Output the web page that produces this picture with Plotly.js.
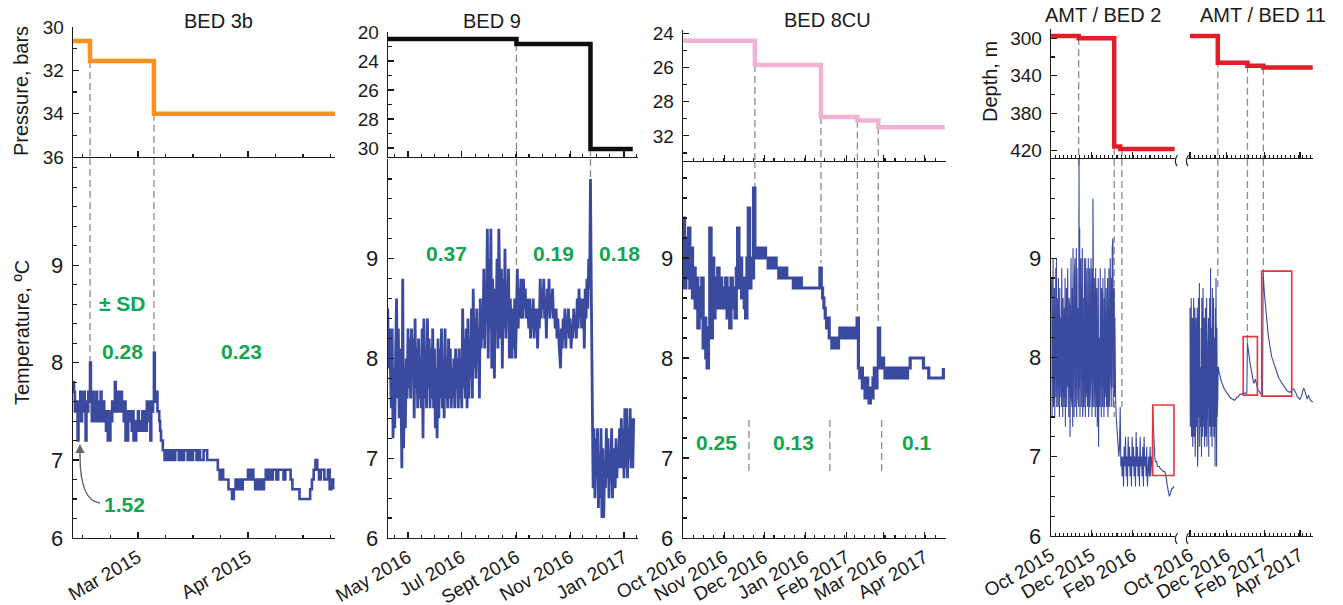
<!DOCTYPE html>
<html>
<head>
<meta charset="utf-8">
<script src="https://cdn.plot.ly/plotly-3.0.1.min.js"></script>
<style>html,body{margin:0;padding:0;background:#fff}#chart{width:1343px;height:605px}</style>
</head>
<body>
<div id="chart"></div>
<script>
// ===================== DATA =====================
// ---- Panel 1: BED 3b (2015) ----
const p1PressureDates = ['2015-02-10 17:00', '2015-02-15 12:00', '2015-03-05 12:00', '2015-04-25 12:00'];
const p1PressureBars = [30.65, 31.57, 34.0, 34.0];
const p1TempStartA = '2015-02-10T18:00'; // 6-hourly
const p1TempA = [7.8,
  7.7,7.5,7.6,7.5, 7.2,7.6,7.5,7.7, 7.4,7.6,7.5,7.7, 7.5,7.2,7.6,7.5, 7.7,7.6,8.0,7.6,
  7.4,7.7,7.5,7.6, 7.4,7.7,7.4,7.6, 7.5,7.4,7.7,7.5, 7.4,7.6,7.4,7.5, 7.3,7.5,7.2,7.4,
  7.2,7.5,7.4,7.6, 7.5,7.6,7.8,7.5, 7.7,7.5,7.6,7.7, 7.5,7.7,7.6,7.5, 7.4,7.6,7.2,7.4,
  7.2,7.5,7.4,7.5, 7.4,7.3,7.5,7.2, 7.4,7.2,7.4,7.3, 7.5,7.3,7.4,7.3, 7.4,7.5,7.3,7.4,
  7.5,7.3,7.6,7.5, 7.6,7.4,7.2,7.6, 7.5,7.6,8.1,7.7, 7.6,7.7,7.5,7.5, 7.4,7.3,7.2,7.2,
  7.1,7.1,7.0,7.1];
const p1TempStartB = '2015-03-09T00:00'; // 12-hourly
const p1TempB = [7.0,7.1, 7.0,7.1, 7.0,7.1, 7.1,7.0, 7.1,7.0, 7.1,7.1, 7.0,7.1, 7.0,7.1,
  7.1,7.0, 7.1,7.0, 7.0,7.1, 7.1,7.0, 7.0,7.0, 7.0,7.0, 7.0,6.9,
  6.8,6.9, 6.8,6.8, 6.8,6.7, 6.7,6.6, 6.7,6.8, 6.7,6.8, 6.7,6.8, 6.8,6.8,
  6.9,6.8, 6.9,6.8, 6.7,6.8, 6.7,6.8, 6.7,6.8, 6.9,6.8, 6.9,6.8, 6.9,6.9, 6.8,6.9, 6.9,6.9, 6.8,6.9, 6.9,6.9,
  6.8,6.7, 6.7,6.7, 6.7,6.6, 6.6,6.6, 6.6,6.6, 6.6,6.7, 6.8,6.9, 7.0,6.9, 6.8,6.9, 6.9,6.8, 6.8,6.9, 6.7,6.8, 6.7];
const p1ChangeDates = ['2015-02-15 12:00', '2015-03-05 12:00'];
const p1ChangeTop = [31.57, 34.0];
const p1ChangeTempEnd = [8.0, 8.1];
const p1TickVals = ['2015-03-01', '2015-04-01'];
const p1TickText = ['Mar 2015', 'Apr 2015'];
const p1SdText = ['± SD', '0.28', '0.23', '1.52'];
const p1SdDates = ['2015-02-24 18:00', '2015-02-24 18:00', '2015-03-30 06:00', '2015-02-25 06:00'];
const p1SdTemps = [8.61, 8.11, 8.11, 6.54];

// ---- Panel 2: BED 9 (2016-2017) ----
const p2PressureDates = ['2016-04-08 07:00', '2016-09-01', '2016-11-24', '2017-01-11'];
const p2PressureBars = [20.48, 20.83, 28.07, 28.07];
const p2TempStart = '2016-04-08T00:00'; // daily
const p2Temp = [
  8.5,7.9,8.3,8.0,7.5,8.3,7.2,7.9,7.3,8.1,
  8.6,7.6,8.3,7.4,8.1,7.7,6.9,8.8,7.1,7.9,
  7.3,8.0,7.6,8.3,7.7,8.2,7.6,8.3,7.8,8.2,
  7.4,8.4,7.7,8.1,7.5,8.2,7.6,8.0,7.5,8.3,
  7.2,8.4,7.6,8.0,7.5,8.4,7.7,8.2,7.5,8.1,
  7.6,8.3,7.5,8.1,7.3,7.9,7.2,8.2,7.4,8.1,
  7.6,8.3,7.5,7.9,7.4,8.3,7.6,8.0,7.5,8.2,
  7.6,8.1,7.5,7.9,7.6,8.0,7.5,8.1,7.7,8.0,
  7.5,8.1,7.6,8.0,7.5,8.5,7.7,8.2,7.6,8.3,
  7.5,8.4,7.6,8.2,7.8,8.5,7.6,8.7,7.9,8.4,
  7.8,8.5,8.0,8.3,7.6,8.6,8.1,8.4,8.2,8.9,
  8.1,8.7,8.4,9.3,8.0,9.0,8.3,9.3,7.9,8.8,
  8.2,7.8,8.7,8.4,9.0,8.1,9.3,8.5,8.2,8.9,
  7.9,8.8,8.3,9.1,8.2,8.7,8.4,8.9,8.0,8.6,
  8.3,8.0,8.5,8.1,8.6,8.0,8.4,8.9,8.3,8.7,
  8.4,8.8,8.5,8.4,8.8,8.5,8.7,8.4,8.6,8.5,
  8.3,8.6,8.2,8.5,8.3,8.6,8.2,8.5,8.4,8.5,
  8.1,8.5,8.3,8.8,8.4,8.7,8.5,8.8,8.4,8.6,
  8.2,8.7,8.5,8.8,8.4,8.6,8.5,8.7,8.4,8.5,
  8.3,8.5,8.2,8.4,8.2,8.0,7.9,8.3,8.1,8.4,
  8.2,8.5,8.1,8.4,8.3,8.5,8.2,8.4,8.1,8.3,
  8.2,8.5,8.3,8.4,8.2,8.6,8.3,8.7,8.4,8.6,
  8.3,8.5,8.6,8.1,8.7,8.4,8.8,8.5,9.0,8.7,
  9.8,8.6,7.2,6.7,7.3,6.6,7.2,6.8,7.3,6.5,
  7.0,6.6,7.3,6.4,7.1,6.4,6.9,6.7,7.3,6.8,
  7.2,6.6,7.0,6.8,7.3,6.6,7.1,6.9,6.7,7.2,
  6.8,7.1,6.9,7.3,6.9,7.4,6.9,7.3,6.8,7.5,
  6.9,7.5,6.8,7.3,7.0,7.5,6.9,7.4,6.9,7.4];
const p2ChangeDates = ['2016-09-01', '2016-11-24'];
const p2ChangeTop = [20.83, 28.07];
const p2ChangeTempEnd = [8.9, 9.8];
const p2TickVals = ['2016-05-01', '2016-07-01', '2016-09-01', '2016-11-01', '2017-01-01'];
const p2TickText = ['May 2016', 'Jul 2016', 'Sept 2016', 'Nov 2016', 'Jan 2017'];
const p2PressureTicks = [20, 22, 24, 26, 28];
const p2PressureTickText = ['20', '24', '26', '28', '30'];
const p2SdText = ['0.37', '0.19', '0.18'];
const p2SdDates = ['2016-06-14', '2016-10-13 12:00', '2016-12-27 06:00'];
const p2SdTemps = [9.05, 9.05, 9.05];

// ---- Panel 3: BED 8CU (2016-2017) ----
const p3PressureDates = ['2016-10-01', '2016-11-24', '2017-01-12 18:00', '2017-02-09 06:00', '2017-02-25', '2017-04-16'];
const p3PressureBars = [24.43, 25.85, 28.9, 29.1, 29.49, 29.49];
const p3TempStart = '2016-10-01T00:00'; // daily
const p3Temp = [
  9.4,8.7,9.2,8.8,9.3,8.7,9.1,8.6,8.9,8.5,
  8.8,8.3,8.7,8.4,8.8,8.1,8.4,8.0,7.9,8.3,
  9.3,8.2,9.0,8.4,8.8,8.5,8.9,8.5,8.8,8.5,
  8.7,8.5,8.8,8.4,8.7,8.3,8.8,8.5,8.7,8.4,
  8.9,9.3,8.7,9.0,8.6,8.8,8.5,8.4,9.0,9.5,
  8.7,9.0,8.8,9.7,9.0,9.1,9.0,9.1,9.0,9.1,
  9.0,9.1,9.0,9.0,8.9,9.0,8.9,9.0,8.9,9.0,
  8.9,8.9,8.8,8.9,8.8,8.9,8.8,8.9,8.8,8.8,
  8.8,8.8,8.8,8.7,8.8,8.7,8.8,8.7,8.8,8.7,
  8.7,8.7,8.7,8.7,8.7,8.7,8.7,8.7,8.7,8.7,
  8.7,8.7,8.7,8.9,8.7,8.6,8.5,8.4,8.3,8.4,
  8.2,8.2,8.1,8.2,8.1,8.2,8.1,8.2,8.3,8.2,
  8.3,8.2,8.3,8.2,8.3,8.2,8.3,8.2,8.3,8.2,
  8.3,8.4,7.9,7.8,7.9,7.7,7.8,7.6,7.8,7.6,
  7.55,7.7,7.6,7.8,7.9,7.7,7.9,8.3,8.0,7.9,
  8.0,7.9,7.8,7.9,7.8,7.9,7.8,7.8,7.9,7.8,
  7.8,7.9,7.8,7.9,7.8,7.8,7.9,7.9,7.8,7.9,
  7.9,8.0,8.0,8.0,8.0,8.0,8.0,8.0,8.0,8.0,
  8.0,7.9,7.9,7.9,7.9,7.8,7.8,7.8,7.8,7.8,
  7.8,7.8,7.8,7.8,7.8,7.8,7.9];
const p3ChangeDates = ['2016-11-24', '2017-01-12 18:00', '2017-02-09 06:00', '2017-02-25'];
const p3ChangeTop = [25.85, 28.9, 29.1, 29.49];
const p3ChangeTempEnd = [9.68, 8.95, 8.47, 8.37];
const p3SepDates = ['2016-11-19 12:00', '2017-01-19 12:00', '2017-02-27 12:00'];
const p3SepTemps = [7.38, 6.83];
const p3TickVals = ['2016-10-01', '2016-11-01', '2016-12-01', '2017-01-01', '2017-02-01', '2017-03-01', '2017-04-01'];
const p3TickText = ['Oct 2016', 'Nov 2016', 'Dec 2016', 'Jan 2016', 'Feb 2017', 'Mar 2016', 'Apr 2017'];
const p3PressureTicks = [24, 26, 28, 30];
const p3PressureTickText = ['24', '26', '28', '32'];
const p3SdText = ['0.25', '0.13', '0.1'];
const p3SdDates = ['2016-10-25 18:00', '2016-12-22 18:00', '2017-03-26'];
const p3SdTemps = [7.16, 7.16, 7.16];

// ---- Panel 4: AMT / BED 2 (2015-2016) ----
const p4DepthDates = ['2015-10-01', '2015-11-11 12:00', '2016-01-04', '2016-01-13', '2016-04-04'];
const p4DepthM = [297.5, 300, 415.6, 418.5, 418.5];
const p4TempStartA = '2015-10-01T00:00'; // 12-hourly
const p4TempA = [
  8.6,7.6,8.8,7.4,8.5,7.8,9.0,7.5,8.2,7.7,
  8.7,7.4,8.4,7.9,8.9,7.6,9.0,7.5,8.3,7.8,
  8.6,7.5,8.8,7.7,8.2,7.4,8.7,7.9,8.5,7.6,
  8.4,7.5,8.9,7.8,8.3,7.4,8.6,7.7,8.1,7.5,
  8.5,7.6,8.8,7.3,8.2,7.9,8.7,7.5,8.4,7.6,
  8.9,7.7,8.3,7.4,8.6,7.5,8.5,7.2,8.8,7.8,
  9.0,7.6,8.4,7.5,8.7,7.3,9.1,7.8,8.5,7.4,
  8.8,7.6,9.0,7.5,8.6,7.7,9.1,7.4,8.9,7.9,
  8.5,7.6,9.2,7.5,10.0,7.7,9.3,7.4,8.8,7.6,
  9.0,7.5,8.7,7.8,9.1,7.4,8.9,7.6,8.6,7.5,
  9.0,7.7,8.8,7.4,9.0,7.6,8.5,7.8,8.9,7.5,
  8.7,7.6,9.0,7.4,8.6,7.7,8.9,7.5,8.4,7.8,
  9.0,7.6,8.7,7.4,8.9,7.5,9.6,7.7,8.6,7.5,
  8.8,7.6,8.5,7.4,8.9,7.8,8.3,7.5,8.7,7.3,
  8.4,7.6,8.8,7.1,8.2,7.6,8.6,7.5,8.9,7.7,
  8.3,7.4,8.7,7.6,8.5,7.5,8.8,7.7,8.2,7.4,
  8.6,7.5,8.9,7.6,8.3,7.8,8.7,7.5,8.4,7.6,
  8.8,7.4,8.5,7.7,8.9,7.5,8.6,7.8,9.0,7.6,
  8.7,7.5,8.8,7.7,9.1,7.6,9.2,7.5,8.6,7.7,
  8.7,7.6,8.4,7.8];
const p4TempStartB = '2016-01-06T00:00'; // daily
const p4TempB = [
  7.6,7.4,7.3,7.2,7.1,7.0,7.1,7.5,6.9,7.0,
  6.8,7.0,6.7,7.1,6.9,7.2,6.8,7.0,6.7,7.2,
  6.9,7.1,6.8,7.0,6.7,7.2,6.9,7.1,6.8,7.0,
  6.7,7.25,6.9,7.1,6.8,7.0,6.7,7.2,6.9,7.0,
  6.8,7.1,6.7,7.2,6.9,7.0,6.8,7.1,6.7,6.9,
  7.0,6.8,7.1,6.8,7.0,6.9,
  7.5,7.3,7.1,7.0,6.95,6.95,6.95,6.9,6.9,6.9,
  6.9,6.88,6.88,6.87,6.86,6.85,6.85,6.85,6.85,6.83,
  6.8,6.75,6.7,6.65,6.6,6.6,6.62,6.65,6.66,6.68,
  6.68,6.7,6.7];
const p4ChangeDates = ['2015-11-11 12:00', '2016-01-04', '2016-01-15 12:00'];
const p4ChangeTop = [300, 300, 418.5];
const p4ChangeTempEnd = [9.9, 7.4, 7.5];
const p4BoxDates = [['2016-03-02', '2016-04-03']];
const p4BoxTemps = [[6.81, 7.52]];
const p4TickVals = ['2015-10-01', '2015-12-01', '2016-02-01'];
const p4TickText = ['Oct 2015', 'Dec 2015', 'Feb 2016'];
const depthTicks = [300, 340, 380, 420];

// ---- Panel 5: AMT / BED 11 (2016-2017) ----
const p5DepthDates = ['2016-10-01', '2016-11-16', '2017-01-04', '2017-01-30 10:00', '2017-04-22'];
const p5DepthM = [297.5, 326, 329.2, 331.3, 331.3];
const p5TempStartA = '2016-10-01T00:00'; // 12-hourly
const p5TempA = [
  8.5,7.3,8.2,7.6,8.6,7.2,8.0,7.5,8.4,7.1,
  8.3,7.4,8.6,7.2,7.9,7.6,8.5,7.0,8.2,7.4,
  8.4,7.3,8.1,7.4,8.5,6.9,8.0,7.2,8.6,7.4,
  8.2,8.75,7.1,8.5,7.6,7.9,7.3,8.3,7.0,8.6,
  7.5,8.1,7.2,8.7,7.4,8.0,7.3,8.4,7.1,8.2,
  7.6,8.5,7.2,8.0,7.4,8.6,7.1,8.3,7.5,8.1,
  7.3,8.4,7.0,8.2,7.5,8.6,7.3,8.0,8.9,7.2,
  8.4,7.4,8.3,7.1,8.7,7.4,8.1,7.3,8.6,7.2,
  8.4,7.5,8.2,6.9,8.5,7.3,8.8,7.2,6.9,8.3,
  7.4,8.1,7.6,7.9];
const p5TempStartB = '2016-11-17T00:00'; // daily
const p5TempB = [
  7.9,7.85,7.82,7.8,7.78,7.76,7.74,7.72,7.7,7.69,
  7.68,7.67,7.66,7.65,7.64,7.63,7.62,7.61,7.6,7.6,
  7.59,7.59,7.58,7.58,7.58,7.57,7.57,7.57,7.58,7.58,
  7.59,7.6,7.6,7.61,7.62,7.62,7.63,7.63,7.63,7.63,
  7.64,7.64,7.64,7.64,7.64,7.64,7.64,7.64,
  8.15,8.08,8.02,7.98,7.95,7.92,7.88,7.84,7.8,7.77,
  7.75,7.74,7.76,7.78,7.76,7.72,7.7,7.68,7.67,7.66,
  7.65,7.64,7.63,7.63,7.62,7.62,
  8.85,8.75,8.65,8.57,8.5,8.43,8.37,8.31,8.25,8.2,
  8.15,8.11,8.07,8.04,8.01,7.99,7.97,7.95,7.93,7.91,
  7.89,7.87,7.85,7.83,7.82,7.8,7.79,7.78,7.77,7.76,
  7.75,7.74,7.73,7.72,7.71,7.7,7.69,7.68,7.67,7.67,
  7.66,7.66,7.65,7.65,7.65,7.65,7.66,7.67,7.68,7.68,
  7.68,7.68,7.67,7.66,7.65,7.63,7.61,7.6,7.59,7.58,
  7.58,7.58,7.59,7.6,7.62,7.65,7.68,7.69,7.68,7.66,
  7.63,7.6,7.58,7.58,7.6,7.62,7.6,7.58,7.57,7.56,
  7.56,7.55,7.55];
const p5ChangeDates = ['2016-11-16', '2017-01-04', '2017-01-30 10:00'];
const p5ChangeTop = [300, 329.2, 331.3];
const p5ChangeTempEnd = [8.67, 8.15, 8.84];
const p5BoxDates = [['2016-12-28', '2017-01-20 12:00'], ['2017-01-27 14:00', '2017-03-18 08:00']];
const p5BoxTemps = [[7.62, 8.21], [7.61, 8.87]];
const p5TickVals = ['2016-10-01', '2016-12-01', '2017-02-01', '2017-04-01'];
const p5TickText = ['Oct 2016', 'Dec 2016', 'Feb 2017', 'Apr 2017'];

// ===================== STYLE / LAYOUT =====================
const W = 1343, H = 605;
const FONT = '"Liberation Sans", Arial, Helvetica, sans-serif';
const INK = '#1a1a1a';
const BLUE = '#3a4a9e';
const GREEN = '#12a650';
const DASHC = '#8c8c8c';
const REDBOX = '#e8343c';
const DAY = 86400000;

function timeline(start, stepHours, values) {
  const t0 = Date.parse(start + 'Z');
  return values.map((v, i) => new Date(t0 + i * stepHours * 3600000).toISOString().slice(0, 16).replace('T', ' '));
}
const PX = p => p / W;
const PY = p => 1 - p / H;
function ax(n) { return n === 1 ? '' : String(n); }

const panels = [
  { dx: [73, 335], top: [27, 157], bot: [158, 538], range: ['2015-02-10 17:00', '2015-04-25 12:00'],
    tickvals: p1TickVals, ticktext: p1TickText, minor0: '2015-03-01', minorDays: 7.75,
    pRange: [36, 30], pTicks: [30, 32, 34, 36], pText: null, pMinor: 1, tRange: [6.2, 10.1], showY: true },
  { dx: [388, 638], top: [32, 157], bot: [159, 538], range: ['2016-04-08 07:00', '2017-01-16 22:00'],
    tickvals: p2TickVals, ticktext: p2TickText, minor0: '2016-05-01', minorDays: 15.25,
    pRange: [28.62, 20], pTicks: p2PressureTicks, pText: p2PressureTickText, pMinor: 1, tRange: [6.2, 10.0], showY: true },
  { dx: [683, 946], top: [30, 161], bot: [161, 538], range: ['2016-09-30 20:00', '2017-04-17'],
    tickvals: p3TickVals, ticktext: p3TickText, minor0: '2016-10-01', minorDays: 7.6,
    pRange: [31.47, 23.8], pTicks: p3PressureTicks, pText: p3PressureTickText, pMinor: 1, tRange: [6.2, 9.97], showY: true },
  { dx: [1051, 1175], top: [29, 158], bot: [159, 536], range: ['2015-09-30 20:00', '2016-04-04 12:00'],
    tickvals: p4TickVals, ticktext: p4TickText, minor0: '2015-10-01', minorDays: 6.2,
    pRange: [428, 290], pTicks: depthTicks, pText: null, pMinor: 20, tRange: [6.2, 10.0], showY: true },
  { dx: [1188, 1313], top: [29, 158], bot: [159, 536], range: ['2016-09-27 16:00', '2017-04-22 12:00'],
    tickvals: p5TickVals, ticktext: p5TickText, minor0: '2016-10-01', minorDays: 6.9,
    pRange: [428, 290], pTicks: depthTicks, pText: null, pMinor: 20, tRange: [6.2, 10.0], showY: false }
];

const layout = {
  width: W, height: H, margin: { l: 0, r: 0, t: 0, b: 0 },
  paper_bgcolor: '#ffffff', plot_bgcolor: 'rgba(0,0,0,0)', showlegend: false, hovermode: false,
  font: { family: FONT, color: INK, size: 18 }, shapes: [], annotations: []
};

panels.forEach((p, i) => {
  const nt = 2 * i + 1, nb = 2 * i + 2;
  const xd = [PX(p.dx[0]), PX(p.dx[1])];
  const minorX = { ticks: 'inside', ticklen: 3.5, tickwidth: 1.1, tickcolor: INK, tickmode: 'linear',
                   tick0: p.minor0, dtick: p.minorDays * DAY, showgrid: false };
  const commonX = { type: 'date', range: p.range, domain: xd, showline: true, linecolor: INK, linewidth: 1.3,
    ticks: 'inside', ticklen: 6, tickwidth: 1.2, tickcolor: INK, tickmode: 'array', tickvals: p.tickvals,
    showgrid: false, zeroline: false, minor: minorX, fixedrange: true };
  layout['xaxis' + ax(nt)] = Object.assign({}, commonX, { anchor: 'y' + ax(nt), showticklabels: false });
  layout['xaxis' + ax(nb)] = Object.assign({}, commonX, { anchor: 'y' + ax(nb), ticktext: p.ticktext,
    tickangle: -30, tickfont: { size: 19, family: FONT, color: INK } });

  const ydTop = [PY(p.top[1]), PY(p.top[0])];
  const ydBot = [PY(p.bot[1]), PY(p.bot[0])];
  if (p.showY) {
    layout['yaxis' + ax(nt)] = { domain: ydTop, range: p.pRange, anchor: 'x' + ax(nt), showline: true,
      linecolor: INK, linewidth: 1.3, ticks: 'inside', ticklen: 6, tickwidth: 1.2, tickcolor: INK,
      tickmode: 'array', tickvals: p.pTicks, ticktext: p.pText || p.pTicks.map(String),
      tickfont: { size: 19, family: FONT, color: INK }, ticklabelstandoff: 4, showgrid: false, zeroline: false,
      minor: { ticks: 'inside', ticklen: 3.5, tickwidth: 1.1, tickcolor: INK, tickmode: 'linear',
               tick0: p.pTicks[0], dtick: p.pMinor, showgrid: false }, fixedrange: true };
    layout['yaxis' + ax(nb)] = { domain: ydBot, range: p.tRange, anchor: 'x' + ax(nb), showline: true,
      linecolor: INK, linewidth: 1.3, ticks: 'inside', ticklen: 6, tickwidth: 1.2, tickcolor: INK,
      tickmode: 'array', tickvals: [p.tRange[0], 7, 8, 9], ticktext: ['6', '7', '8', '9'],
      tickfont: { size: 22, family: FONT, color: INK }, ticklabelstandoff: 4, showgrid: false, zeroline: false,
      minor: { ticks: 'inside', ticklen: 3.5, tickwidth: 1.1, tickcolor: INK, tickmode: 'linear',
               tick0: 7, dtick: 0.2, showgrid: false }, fixedrange: true };
  } else {
    layout['yaxis' + ax(nt)] = { domain: ydTop, range: p.pRange, anchor: 'x' + ax(nt), visible: false, fixedrange: true };
    layout['yaxis' + ax(nb)] = { domain: ydBot, range: p.tRange, anchor: 'x' + ax(nb), visible: false, fixedrange: true };
  }
});

// ===================== TRACES =====================
function stepTrace(dates, vals, n, color) {
  return { type: 'scatter', mode: 'lines', x: dates, y: vals, xaxis: 'x' + ax(n), yaxis: 'y' + ax(n),
           line: { color: color, width: 4.5, shape: 'hv' }, hoverinfo: 'skip' };
}
function tempTrace(x, y, n, width, shape) {
  return { type: 'scatter', mode: 'lines', x: x, y: y, xaxis: 'x' + ax(n), yaxis: 'y' + ax(n),
           line: { color: BLUE, width: width, shape: shape }, hoverinfo: 'skip' };
}
const data = [
  stepTrace(p1PressureDates, p1PressureBars, 1, '#f7921e'),
  tempTrace(timeline(p1TempStartA, 6, p1TempA).concat(timeline(p1TempStartB, 12, p1TempB)), p1TempA.concat(p1TempB), 2, 2.6, 'hv'),
  stepTrace(p2PressureDates, p2PressureBars, 3, '#0d0d0d'),
  tempTrace(timeline(p2TempStart, 24, p2Temp), p2Temp, 4, 2.8, 'linear'),
  stepTrace(p3PressureDates, p3PressureBars, 5, '#efb3d4'),
  tempTrace(timeline(p3TempStart, 24, p3Temp), p3Temp, 6, 3.2, 'hv'),
  stepTrace(p4DepthDates, p4DepthM, 7, '#e11d27'),
  tempTrace(timeline(p4TempStartA, 12, p4TempA).concat(timeline(p4TempStartB, 24, p4TempB)), p4TempA.concat(p4TempB), 8, 1.1, 'linear'),
  stepTrace(p5DepthDates, p5DepthM, 9, '#e11d27'),
  tempTrace(timeline(p5TempStartA, 12, p5TempA).concat(timeline(p5TempStartB, 24, p5TempB)), p5TempA.concat(p5TempB), 10, 1.1, 'linear')
];

// ===================== SHAPES =====================
const dashLine = { color: DASHC, width: 1.3, dash: '7px,4px' };
function changeLines(panelIdx, dates, topVals, tempEnds) {
  const p = panels[panelIdx], nt = 2 * panelIdx + 1, nb = 2 * panelIdx + 2;
  dates.forEach((d, k) => {
    layout.shapes.push({ type: 'line', layer: 'below', xref: 'x' + ax(nt), yref: 'y' + ax(nt),
      x0: d, x1: d, y0: topVals[k], y1: p.pRange[0], line: dashLine });
    layout.shapes.push({ type: 'line', layer: 'below', xref: 'x' + ax(nb), yref: 'y' + ax(nb),
      x0: d, x1: d, y0: p.tRange[1], y1: tempEnds[k], line: dashLine });
  });
}
changeLines(0, p1ChangeDates, p1ChangeTop, p1ChangeTempEnd);
changeLines(1, p2ChangeDates, p2ChangeTop, p2ChangeTempEnd);
changeLines(2, p3ChangeDates, p3ChangeTop, p3ChangeTempEnd);
changeLines(3, p4ChangeDates, p4ChangeTop, p4ChangeTempEnd);
changeLines(4, p5ChangeDates, p5ChangeTop, p5ChangeTempEnd);

p3SepDates.forEach(d => layout.shapes.push({ type: 'line', layer: 'below', xref: 'x6', yref: 'y6',
  x0: d, x1: d, y0: p3SepTemps[0], y1: p3SepTemps[1], line: dashLine }));

function boxes(n, dates, temps) {
  dates.forEach((d, k) => layout.shapes.push({ type: 'rect', layer: 'above', xref: 'x' + ax(n), yref: 'y' + ax(n),
    x0: d[0], x1: d[1], y0: temps[k][0], y1: temps[k][1], line: { color: REDBOX, width: 1.6 }, fillcolor: 'rgba(0,0,0,0)' }));
}
boxes(8, p4BoxDates, p4BoxTemps);
boxes(10, p5BoxDates, p5BoxTemps);

// axis break marks
function breakMark(x, y) {
  layout.shapes.push({ type: 'path', xref: 'paper', yref: 'paper', layer: 'above',
    path: `M ${PX(x + 1.5)},${PY(y - 3)} Q ${PX(x - 2.5)},${PY(y + 3)} ${PX(x + 1)},${PY(y + 8)}`,
    line: { color: INK, width: 1.1 } });
}
[[1176, 158], [1176, 536], [1187, 158], [1187, 536]].forEach(b => breakMark(b[0], b[1]));

// curved arrow toward the 1.52 dip
layout.shapes.push({ type: 'path', xref: 'paper', yref: 'paper', layer: 'above',
  path: `M ${PX(100)},${PY(503)} Q ${PX(80)},${PY(501)} ${PX(80)},${PY(455)}`,
  line: { color: '#666666', width: 1.4 } });
layout.annotations.push({ xref: 'paper', yref: 'paper', x: PX(80), y: PY(444), ax: 0, ay: 14, text: '',
  showarrow: true, arrowhead: 2, arrowsize: 1.3, arrowwidth: 1.4, arrowcolor: '#666666' });

// ===================== ANNOTATIONS =====================
function paperText(text, x, y, size, angle) {
  layout.annotations.push({ xref: 'paper', yref: 'paper', x: PX(x), y: PY(y), text: text, showarrow: false,
    textangle: angle || 0, xanchor: 'center', yanchor: 'middle', font: { size: size, family: FONT, color: INK } });
}
paperText('BED 3b', 218, 21, 20);
paperText('BED 9', 492, 21, 20);
paperText('BED 8CU', 827, 20, 20);
paperText('AMT / BED 2', 1103, 15, 20);
paperText('AMT / BED 11', 1263, 15, 20);
paperText('Pressure, bars', 21, 91, 20, -90);
paperText('Temperature, ºC', 22, 333, 20, -90);
paperText('Depth, m', 990, 82, 20, -90);

function sdLabels(n, texts, dates, temps) {
  texts.forEach((t, k) => layout.annotations.push({ xref: 'x' + ax(n), yref: 'y' + ax(n), x: dates[k], y: temps[k],
    text: '<b>' + t + '</b>', showarrow: false, xanchor: 'center', yanchor: 'middle',
    font: { size: 21, family: FONT, color: GREEN } }));
}
sdLabels(2, p1SdText, p1SdDates, p1SdTemps);
sdLabels(4, p2SdText, p2SdDates, p2SdTemps);
sdLabels(6, p3SdText, p3SdDates, p3SdTemps);

Plotly.newPlot('chart', data, layout, { staticPlot: true, displayModeBar: false });
</script>
</body>
</html>
